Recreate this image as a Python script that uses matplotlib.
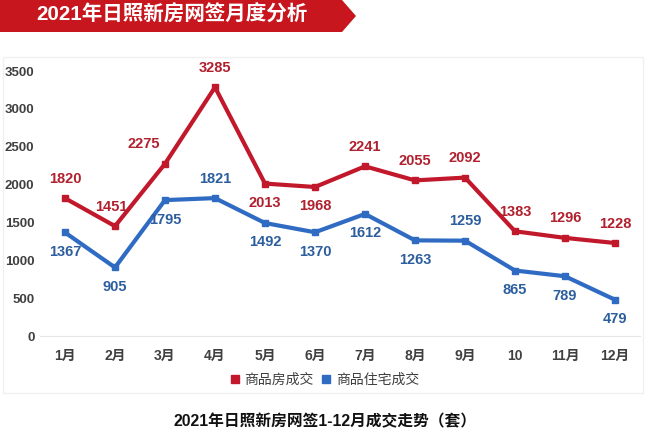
import matplotlib.pyplot as plt
from matplotlib.patches import Polygon, Rectangle

plt.rcParams['font.family'] = ['Liberation Sans', 'Noto Sans CJK SC', 'DejaVu Sans']

months = ["1月", "2月", "3月", "4月", "5月", "6月", "7月", "8月", "9月", "10", "11月", "12月"]
commercial = [1820, 1451, 2275, 3285, 2013, 1968, 2241, 2055, 2092, 1383, 1296, 1228]
residential = [1367, 905, 1795, 1821, 1492, 1370, 1612, 1263, 1259, 865, 789, 479]
# label above (+1) or below (-1) the point
commercial_pos = [1, 1, 1, 1, -1, -1, 1, 1, 1, 1, 1, 1]
residential_pos = [-1, -1, -1, 1, -1, -1, -1, -1, 1, -1, -1, -1]
# small sideways nudges (points) so a label clears the line
commercial_dx = [0, -3, -15, 0, 0, 0, 0, 0, 0, 0, 0, 0]

red = "#C2182B"
blue = "#2F6BC2"
red_txt = "#B0202E"
blue_txt = "#2C5E9E"

fig = plt.figure(figsize=(6.5, 4.4), dpi=100)

# faint frame round the chart area
fig.patches.append(Rectangle((0.004, 1 - 393 / 440), 0.985, (393 - 57) / 440,
                             transform=fig.transFigure, fill=False,
                             edgecolor="#f0f0f0", linewidth=1))

# title banner
banner = Polygon([(0, 1), (342 / 650, 1), (356 / 650, 1 - 16 / 440),
                  (342 / 650, 1 - 32 / 440), (0, 1 - 32 / 440)],
                 closed=True, transform=fig.transFigure,
                 facecolor="#C8161E", edgecolor="none")
fig.patches.append(banner)
fig.text(172 / 650, 1 - 15 / 440, "2021年日照新房网签月度分析", color="white",
         fontsize=14.8, fontweight="bold", ha="center", va="center")

ax = fig.add_axes([40 / 650, 1 - 336 / 440, 600 / 650, (336 - 71) / 440])
x = list(range(len(months)))

ax.plot(x, commercial, color=red, lw=3, marker="s", markersize=5,
        label="商品房成交", zorder=3)
ax.plot(x, residential, color=blue, lw=3, marker="s", markersize=5,
        label="商品住宅成交", zorder=3)

for xi, v, p, dx in zip(x, commercial, commercial_pos, commercial_dx):
    ax.annotate(str(v), (xi, v), xytext=(dx, 14 * p), textcoords="offset points",
                ha="center", va="center", color=red_txt, fontsize=10.5,
                fontweight="bold")
for xi, v, p in zip(x, residential, residential_pos):
    ax.annotate(str(v), (xi, v), xytext=(0, 14 * p), textcoords="offset points",
                ha="center", va="center", color=blue_txt, fontsize=10.5,
                fontweight="bold")

ax.set_xlim(-0.5, len(months) - 0.5)
ax.set_ylim(0, 3500)
ax.set_yticks(range(0, 3501, 500))
ax.set_xticks(x)
ax.set_xticklabels(months)
for s in ["top", "right", "left"]:
    ax.spines[s].set_visible(False)
ax.spines["bottom"].set_color("#e6e6e6")
ax.tick_params(length=0, colors="#404040")
ax.tick_params(axis="x", pad=9, labelsize=10)
ax.tick_params(axis="y", pad=4, labelsize=9.5)
for lab in ax.get_xticklabels() + ax.get_yticklabels():
    lab.set_fontweight("bold")

leg = fig.legend(loc="center", bbox_to_anchor=(325 / 650, 1 - 380 / 440), ncol=2,
                 frameon=False, handlelength=0.6, handletextpad=0.4,
                 columnspacing=0.6, fontsize=10)
for h in leg.legend_handles:
    h.set_linestyle("none")
    h.set_markersize(5.5)
for t in leg.get_texts():
    t.set_color("#404040")

fig.text(325 / 650, 1 - 422 / 440, "2021年日照新房网签1-12月成交走势（套）",
         ha="center", va="center", fontsize=11.3, fontweight="bold", color="#111111")

fig.savefig("out.png", dpi=100)
